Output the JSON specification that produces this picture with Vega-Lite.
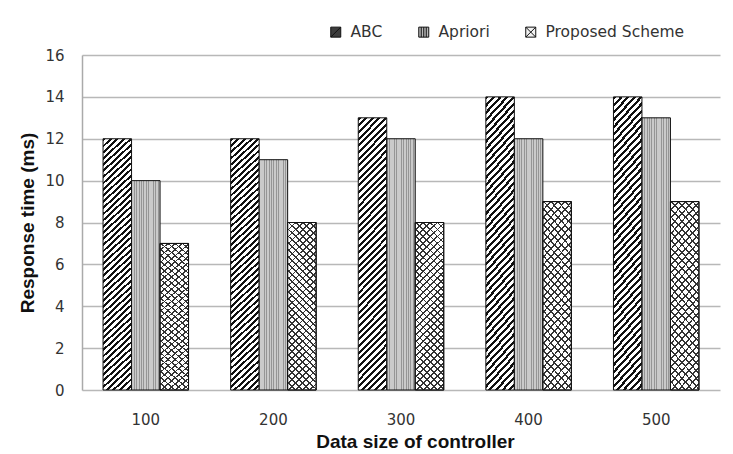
{
  "$schema": "https://vega.github.io/schema/vega-lite/v6.json",
  "width": 638,
  "height": 335,
  "autosize": {"type": "none"},
  "padding": {"left": 82, "top": 55, "right": 13, "bottom": 64},
  "background": "white",
  "config": {"view": {"stroke": null}, "font": "DejaVu Sans"},
  "data": {
    "values": [
      {"size": "100", "series": "ABC", "v": 12},
      {"size": "100", "series": "Apriori", "v": 10},
      {"size": "100", "series": "Proposed Scheme", "v": 7},
      {"size": "200", "series": "ABC", "v": 12},
      {"size": "200", "series": "Apriori", "v": 11},
      {"size": "200", "series": "Proposed Scheme", "v": 8},
      {"size": "300", "series": "ABC", "v": 13},
      {"size": "300", "series": "Apriori", "v": 12},
      {"size": "300", "series": "Proposed Scheme", "v": 8},
      {"size": "400", "series": "ABC", "v": 14},
      {"size": "400", "series": "Apriori", "v": 12},
      {"size": "400", "series": "Proposed Scheme", "v": 9},
      {"size": "500", "series": "ABC", "v": 14},
      {"size": "500", "series": "Apriori", "v": 13},
      {"size": "500", "series": "Proposed Scheme", "v": 9}
    ]
  },
  "encoding": {
    "x": {
      "field": "size", "type": "nominal", "sort": ["100", "200", "300", "400", "500"],
      "scale": {"paddingInner": 0.33, "paddingOuter": 0.165},
      "axis": {
        "title": "Data size of controller", "titleFont": "Liberation Sans", "titleFontSize": 19, "titleFontWeight": "bold", "titleColor": "#111",
        "titleX": 333, "titleY": 57, "titleBaseline": "alphabetic", "titleAlign": "center",
        "labelFont": "DejaVu Sans", "labelFontSize": 15, "labelColor": "#333", "labelAngle": 0, "labelBaseline": "alphabetic", "labelPadding": 34,
        "ticks": false, "tickSize": 0, "domain": false, "grid": false
      }
    },
    "xOffset": {"field": "series", "type": "nominal", "sort": ["ABC", "Apriori", "Proposed Scheme"], "scale": {"paddingInner": 0, "paddingOuter": 0}},
    "y": {
      "field": "v", "type": "quantitative", "scale": {"domain": [0, 16], "nice": false},
      "axis": {
        "title": "Response time (ms)", "titleFont": "Liberation Sans", "titleFontSize": 19, "titleFontWeight": "bold", "titleColor": "#111",
        "titleX": -49, "titleY": 167.5, "titleAngle": -90, "titleBaseline": "alphabetic", "titleAlign": "center",
        "values": [0, 2, 4, 6, 8, 10, 12, 14, 16],
        "labelFont": "DejaVu Sans", "labelFontSize": 15, "labelColor": "#333", "labelPadding": 18,
        "ticks": false, "tickSize": 0, "domain": true, "domainColor": "#aaa", "domainWidth": 1.5,
        "grid": true, "gridColor": "#b8b8b8", "gridWidth": 1.5
      }
    }
  },
  "layer": [
    {
      "mark": {"type": "bar", "stroke": "#111", "strokeWidth": 1},
      "encoding": {
        "fill": {
          "condition": [
            {"test": "datum.series === 'ABC'", "value": {"gradient": "linear", "x1": 0, "y1": 0, "x2": 0.116, "y2": 1.094, "stops": [
              {"offset": 0, "color": "#111"}, {"offset": 0.01, "color": "#111"}, {"offset": 0.01, "color": "#fff"}, {"offset": 0.0222, "color": "#fff"},
              {"offset": 0.0222, "color": "#111"}, {"offset": 0.0322, "color": "#111"}, {"offset": 0.0322, "color": "#fff"}, {"offset": 0.0444, "color": "#fff"},
              {"offset": 0.0444, "color": "#111"}, {"offset": 0.0544, "color": "#111"}, {"offset": 0.0544, "color": "#fff"}, {"offset": 0.0667, "color": "#fff"},
              {"offset": 0.0667, "color": "#111"}, {"offset": 0.0767, "color": "#111"}, {"offset": 0.0767, "color": "#fff"}, {"offset": 0.0889, "color": "#fff"},
              {"offset": 0.0889, "color": "#111"}, {"offset": 0.0989, "color": "#111"}, {"offset": 0.0989, "color": "#fff"}, {"offset": 0.1111, "color": "#fff"},
              {"offset": 0.1111, "color": "#111"}, {"offset": 0.1211, "color": "#111"}, {"offset": 0.1211, "color": "#fff"}, {"offset": 0.1333, "color": "#fff"},
              {"offset": 0.1333, "color": "#111"}, {"offset": 0.1433, "color": "#111"}, {"offset": 0.1433, "color": "#fff"}, {"offset": 0.1556, "color": "#fff"},
              {"offset": 0.1556, "color": "#111"}, {"offset": 0.1656, "color": "#111"}, {"offset": 0.1656, "color": "#fff"}, {"offset": 0.1778, "color": "#fff"},
              {"offset": 0.1778, "color": "#111"}, {"offset": 0.1878, "color": "#111"}, {"offset": 0.1878, "color": "#fff"}, {"offset": 0.2, "color": "#fff"},
              {"offset": 0.2, "color": "#111"}, {"offset": 0.21, "color": "#111"}, {"offset": 0.21, "color": "#fff"}, {"offset": 0.2222, "color": "#fff"},
              {"offset": 0.2222, "color": "#111"}, {"offset": 0.2322, "color": "#111"}, {"offset": 0.2322, "color": "#fff"}, {"offset": 0.2444, "color": "#fff"},
              {"offset": 0.2444, "color": "#111"}, {"offset": 0.2544, "color": "#111"}, {"offset": 0.2544, "color": "#fff"}, {"offset": 0.2667, "color": "#fff"},
              {"offset": 0.2667, "color": "#111"}, {"offset": 0.2767, "color": "#111"}, {"offset": 0.2767, "color": "#fff"}, {"offset": 0.2889, "color": "#fff"},
              {"offset": 0.2889, "color": "#111"}, {"offset": 0.2989, "color": "#111"}, {"offset": 0.2989, "color": "#fff"}, {"offset": 0.3111, "color": "#fff"},
              {"offset": 0.3111, "color": "#111"}, {"offset": 0.3211, "color": "#111"}, {"offset": 0.3211, "color": "#fff"}, {"offset": 0.3333, "color": "#fff"},
              {"offset": 0.3333, "color": "#111"}, {"offset": 0.3433, "color": "#111"}, {"offset": 0.3433, "color": "#fff"}, {"offset": 0.3556, "color": "#fff"},
              {"offset": 0.3556, "color": "#111"}, {"offset": 0.3656, "color": "#111"}, {"offset": 0.3656, "color": "#fff"}, {"offset": 0.3778, "color": "#fff"},
              {"offset": 0.3778, "color": "#111"}, {"offset": 0.3878, "color": "#111"}, {"offset": 0.3878, "color": "#fff"}, {"offset": 0.4, "color": "#fff"},
              {"offset": 0.4, "color": "#111"}, {"offset": 0.41, "color": "#111"}, {"offset": 0.41, "color": "#fff"}, {"offset": 0.4222, "color": "#fff"},
              {"offset": 0.4222, "color": "#111"}, {"offset": 0.4322, "color": "#111"}, {"offset": 0.4322, "color": "#fff"}, {"offset": 0.4444, "color": "#fff"},
              {"offset": 0.4444, "color": "#111"}, {"offset": 0.4544, "color": "#111"}, {"offset": 0.4544, "color": "#fff"}, {"offset": 0.4667, "color": "#fff"},
              {"offset": 0.4667, "color": "#111"}, {"offset": 0.4767, "color": "#111"}, {"offset": 0.4767, "color": "#fff"}, {"offset": 0.4889, "color": "#fff"},
              {"offset": 0.4889, "color": "#111"}, {"offset": 0.4989, "color": "#111"}, {"offset": 0.4989, "color": "#fff"}, {"offset": 0.5111, "color": "#fff"},
              {"offset": 0.5111, "color": "#111"}, {"offset": 0.5211, "color": "#111"}, {"offset": 0.5211, "color": "#fff"}, {"offset": 0.5333, "color": "#fff"},
              {"offset": 0.5333, "color": "#111"}, {"offset": 0.5433, "color": "#111"}, {"offset": 0.5433, "color": "#fff"}, {"offset": 0.5556, "color": "#fff"},
              {"offset": 0.5556, "color": "#111"}, {"offset": 0.5656, "color": "#111"}, {"offset": 0.5656, "color": "#fff"}, {"offset": 0.5778, "color": "#fff"},
              {"offset": 0.5778, "color": "#111"}, {"offset": 0.5878, "color": "#111"}, {"offset": 0.5878, "color": "#fff"}, {"offset": 0.6, "color": "#fff"},
              {"offset": 0.6, "color": "#111"}, {"offset": 0.61, "color": "#111"}, {"offset": 0.61, "color": "#fff"}, {"offset": 0.6222, "color": "#fff"},
              {"offset": 0.6222, "color": "#111"}, {"offset": 0.6322, "color": "#111"}, {"offset": 0.6322, "color": "#fff"}, {"offset": 0.6444, "color": "#fff"},
              {"offset": 0.6444, "color": "#111"}, {"offset": 0.6544, "color": "#111"}, {"offset": 0.6544, "color": "#fff"}, {"offset": 0.6667, "color": "#fff"},
              {"offset": 0.6667, "color": "#111"}, {"offset": 0.6767, "color": "#111"}, {"offset": 0.6767, "color": "#fff"}, {"offset": 0.6889, "color": "#fff"},
              {"offset": 0.6889, "color": "#111"}, {"offset": 0.6989, "color": "#111"}, {"offset": 0.6989, "color": "#fff"}, {"offset": 0.7111, "color": "#fff"},
              {"offset": 0.7111, "color": "#111"}, {"offset": 0.7211, "color": "#111"}, {"offset": 0.7211, "color": "#fff"}, {"offset": 0.7333, "color": "#fff"},
              {"offset": 0.7333, "color": "#111"}, {"offset": 0.7433, "color": "#111"}, {"offset": 0.7433, "color": "#fff"}, {"offset": 0.7556, "color": "#fff"},
              {"offset": 0.7556, "color": "#111"}, {"offset": 0.7656, "color": "#111"}, {"offset": 0.7656, "color": "#fff"}, {"offset": 0.7778, "color": "#fff"},
              {"offset": 0.7778, "color": "#111"}, {"offset": 0.7878, "color": "#111"}, {"offset": 0.7878, "color": "#fff"}, {"offset": 0.8, "color": "#fff"},
              {"offset": 0.8, "color": "#111"}, {"offset": 0.81, "color": "#111"}, {"offset": 0.81, "color": "#fff"}, {"offset": 0.8222, "color": "#fff"},
              {"offset": 0.8222, "color": "#111"}, {"offset": 0.8322, "color": "#111"}, {"offset": 0.8322, "color": "#fff"}, {"offset": 0.8444, "color": "#fff"},
              {"offset": 0.8444, "color": "#111"}, {"offset": 0.8544, "color": "#111"}, {"offset": 0.8544, "color": "#fff"}, {"offset": 0.8667, "color": "#fff"},
              {"offset": 0.8667, "color": "#111"}, {"offset": 0.8767, "color": "#111"}, {"offset": 0.8767, "color": "#fff"}, {"offset": 0.8889, "color": "#fff"},
              {"offset": 0.8889, "color": "#111"}, {"offset": 0.8989, "color": "#111"}, {"offset": 0.8989, "color": "#fff"}, {"offset": 0.9111, "color": "#fff"},
              {"offset": 0.9111, "color": "#111"}, {"offset": 0.9211, "color": "#111"}, {"offset": 0.9211, "color": "#fff"}, {"offset": 0.9333, "color": "#fff"},
              {"offset": 0.9333, "color": "#111"}, {"offset": 0.9433, "color": "#111"}, {"offset": 0.9433, "color": "#fff"}, {"offset": 0.9556, "color": "#fff"},
              {"offset": 0.9556, "color": "#111"}, {"offset": 0.9656, "color": "#111"}, {"offset": 0.9656, "color": "#fff"}, {"offset": 0.9778, "color": "#fff"},
              {"offset": 0.9778, "color": "#111"}, {"offset": 0.9878, "color": "#111"}, {"offset": 0.9878, "color": "#fff"}, {"offset": 1, "color": "#fff"}
            ]}},
            {"test": "datum.series === 'Apriori'", "value": {"gradient": "linear", "x1": 0, "y1": 0, "x2": 1, "y2": 0, "stops": [
              {"offset": 0, "color": "#959595"}, {"offset": 0.03, "color": "#959595"}, {"offset": 0.03, "color": "#cacaca"}, {"offset": 0.0833, "color": "#cacaca"},
              {"offset": 0.0833, "color": "#959595"}, {"offset": 0.1133, "color": "#959595"}, {"offset": 0.1133, "color": "#cacaca"}, {"offset": 0.1667, "color": "#cacaca"},
              {"offset": 0.1667, "color": "#959595"}, {"offset": 0.1967, "color": "#959595"}, {"offset": 0.1967, "color": "#cacaca"}, {"offset": 0.25, "color": "#cacaca"},
              {"offset": 0.25, "color": "#959595"}, {"offset": 0.28, "color": "#959595"}, {"offset": 0.28, "color": "#cacaca"}, {"offset": 0.3333, "color": "#cacaca"},
              {"offset": 0.3333, "color": "#959595"}, {"offset": 0.3633, "color": "#959595"}, {"offset": 0.3633, "color": "#cacaca"}, {"offset": 0.4167, "color": "#cacaca"},
              {"offset": 0.4167, "color": "#959595"}, {"offset": 0.4467, "color": "#959595"}, {"offset": 0.4467, "color": "#cacaca"}, {"offset": 0.5, "color": "#cacaca"},
              {"offset": 0.5, "color": "#959595"}, {"offset": 0.53, "color": "#959595"}, {"offset": 0.53, "color": "#cacaca"}, {"offset": 0.5833, "color": "#cacaca"},
              {"offset": 0.5833, "color": "#959595"}, {"offset": 0.6133, "color": "#959595"}, {"offset": 0.6133, "color": "#cacaca"}, {"offset": 0.6667, "color": "#cacaca"},
              {"offset": 0.6667, "color": "#959595"}, {"offset": 0.6967, "color": "#959595"}, {"offset": 0.6967, "color": "#cacaca"}, {"offset": 0.75, "color": "#cacaca"},
              {"offset": 0.75, "color": "#959595"}, {"offset": 0.78, "color": "#959595"}, {"offset": 0.78, "color": "#cacaca"}, {"offset": 0.8333, "color": "#cacaca"},
              {"offset": 0.8333, "color": "#959595"}, {"offset": 0.8633, "color": "#959595"}, {"offset": 0.8633, "color": "#cacaca"}, {"offset": 0.9167, "color": "#cacaca"},
              {"offset": 0.9167, "color": "#959595"}, {"offset": 0.9467, "color": "#959595"}, {"offset": 0.9467, "color": "#cacaca"}, {"offset": 1, "color": "#cacaca"}
            ]}}
          ],
          "value": "#ffffff"
        }
      }
    },
    {
      "transform": [{"filter": "datum.series === 'Proposed Scheme'"}],
      "mark": {"type": "bar", "strokeWidth": 0, "fill": {"gradient": "linear", "x1": 0, "y1": 0, "x2": 0.19, "y2": 1.135, "stops": [
        {"offset": 0, "color": "#333"}, {"offset": 0.009, "color": "#333"}, {"offset": 0.009, "color": "rgba(0,0,0,0)"}, {"offset": 0.0357, "color": "rgba(0,0,0,0)"},
        {"offset": 0.0357, "color": "#333"}, {"offset": 0.0447, "color": "#333"}, {"offset": 0.0447, "color": "rgba(0,0,0,0)"}, {"offset": 0.0714, "color": "rgba(0,0,0,0)"},
        {"offset": 0.0714, "color": "#333"}, {"offset": 0.0804, "color": "#333"}, {"offset": 0.0804, "color": "rgba(0,0,0,0)"}, {"offset": 0.1071, "color": "rgba(0,0,0,0)"},
        {"offset": 0.1071, "color": "#333"}, {"offset": 0.1161, "color": "#333"}, {"offset": 0.1161, "color": "rgba(0,0,0,0)"}, {"offset": 0.1429, "color": "rgba(0,0,0,0)"},
        {"offset": 0.1429, "color": "#333"}, {"offset": 0.1519, "color": "#333"}, {"offset": 0.1519, "color": "rgba(0,0,0,0)"}, {"offset": 0.1786, "color": "rgba(0,0,0,0)"},
        {"offset": 0.1786, "color": "#333"}, {"offset": 0.1876, "color": "#333"}, {"offset": 0.1876, "color": "rgba(0,0,0,0)"}, {"offset": 0.2143, "color": "rgba(0,0,0,0)"},
        {"offset": 0.2143, "color": "#333"}, {"offset": 0.2233, "color": "#333"}, {"offset": 0.2233, "color": "rgba(0,0,0,0)"}, {"offset": 0.25, "color": "rgba(0,0,0,0)"},
        {"offset": 0.25, "color": "#333"}, {"offset": 0.259, "color": "#333"}, {"offset": 0.259, "color": "rgba(0,0,0,0)"}, {"offset": 0.2857, "color": "rgba(0,0,0,0)"},
        {"offset": 0.2857, "color": "#333"}, {"offset": 0.2947, "color": "#333"}, {"offset": 0.2947, "color": "rgba(0,0,0,0)"}, {"offset": 0.3214, "color": "rgba(0,0,0,0)"},
        {"offset": 0.3214, "color": "#333"}, {"offset": 0.3304, "color": "#333"}, {"offset": 0.3304, "color": "rgba(0,0,0,0)"}, {"offset": 0.3571, "color": "rgba(0,0,0,0)"},
        {"offset": 0.3571, "color": "#333"}, {"offset": 0.3661, "color": "#333"}, {"offset": 0.3661, "color": "rgba(0,0,0,0)"}, {"offset": 0.3929, "color": "rgba(0,0,0,0)"},
        {"offset": 0.3929, "color": "#333"}, {"offset": 0.4019, "color": "#333"}, {"offset": 0.4019, "color": "rgba(0,0,0,0)"}, {"offset": 0.4286, "color": "rgba(0,0,0,0)"},
        {"offset": 0.4286, "color": "#333"}, {"offset": 0.4376, "color": "#333"}, {"offset": 0.4376, "color": "rgba(0,0,0,0)"}, {"offset": 0.4643, "color": "rgba(0,0,0,0)"},
        {"offset": 0.4643, "color": "#333"}, {"offset": 0.4733, "color": "#333"}, {"offset": 0.4733, "color": "rgba(0,0,0,0)"}, {"offset": 0.5, "color": "rgba(0,0,0,0)"},
        {"offset": 0.5, "color": "#333"}, {"offset": 0.509, "color": "#333"}, {"offset": 0.509, "color": "rgba(0,0,0,0)"}, {"offset": 0.5357, "color": "rgba(0,0,0,0)"},
        {"offset": 0.5357, "color": "#333"}, {"offset": 0.5447, "color": "#333"}, {"offset": 0.5447, "color": "rgba(0,0,0,0)"}, {"offset": 0.5714, "color": "rgba(0,0,0,0)"},
        {"offset": 0.5714, "color": "#333"}, {"offset": 0.5804, "color": "#333"}, {"offset": 0.5804, "color": "rgba(0,0,0,0)"}, {"offset": 0.6071, "color": "rgba(0,0,0,0)"},
        {"offset": 0.6071, "color": "#333"}, {"offset": 0.6161, "color": "#333"}, {"offset": 0.6161, "color": "rgba(0,0,0,0)"}, {"offset": 0.6429, "color": "rgba(0,0,0,0)"},
        {"offset": 0.6429, "color": "#333"}, {"offset": 0.6519, "color": "#333"}, {"offset": 0.6519, "color": "rgba(0,0,0,0)"}, {"offset": 0.6786, "color": "rgba(0,0,0,0)"},
        {"offset": 0.6786, "color": "#333"}, {"offset": 0.6876, "color": "#333"}, {"offset": 0.6876, "color": "rgba(0,0,0,0)"}, {"offset": 0.7143, "color": "rgba(0,0,0,0)"},
        {"offset": 0.7143, "color": "#333"}, {"offset": 0.7233, "color": "#333"}, {"offset": 0.7233, "color": "rgba(0,0,0,0)"}, {"offset": 0.75, "color": "rgba(0,0,0,0)"},
        {"offset": 0.75, "color": "#333"}, {"offset": 0.759, "color": "#333"}, {"offset": 0.759, "color": "rgba(0,0,0,0)"}, {"offset": 0.7857, "color": "rgba(0,0,0,0)"},
        {"offset": 0.7857, "color": "#333"}, {"offset": 0.7947, "color": "#333"}, {"offset": 0.7947, "color": "rgba(0,0,0,0)"}, {"offset": 0.8214, "color": "rgba(0,0,0,0)"},
        {"offset": 0.8214, "color": "#333"}, {"offset": 0.8304, "color": "#333"}, {"offset": 0.8304, "color": "rgba(0,0,0,0)"}, {"offset": 0.8571, "color": "rgba(0,0,0,0)"},
        {"offset": 0.8571, "color": "#333"}, {"offset": 0.8661, "color": "#333"}, {"offset": 0.8661, "color": "rgba(0,0,0,0)"}, {"offset": 0.8929, "color": "rgba(0,0,0,0)"},
        {"offset": 0.8929, "color": "#333"}, {"offset": 0.9019, "color": "#333"}, {"offset": 0.9019, "color": "rgba(0,0,0,0)"}, {"offset": 0.9286, "color": "rgba(0,0,0,0)"},
        {"offset": 0.9286, "color": "#333"}, {"offset": 0.9376, "color": "#333"}, {"offset": 0.9376, "color": "rgba(0,0,0,0)"}, {"offset": 0.9643, "color": "rgba(0,0,0,0)"},
        {"offset": 0.9643, "color": "#333"}, {"offset": 0.9733, "color": "#333"}, {"offset": 0.9733, "color": "rgba(0,0,0,0)"}, {"offset": 1, "color": "rgba(0,0,0,0)"}
      ]}}
    },
    {
      "transform": [{"filter": "datum.series === 'Proposed Scheme'"}],
      "mark": {"type": "bar", "stroke": "#111", "strokeWidth": 1, "fill": {"gradient": "linear", "x1": 0, "y1": 1, "x2": 0.19, "y2": -0.135, "stops": [
        {"offset": 0, "color": "#333"}, {"offset": 0.009, "color": "#333"}, {"offset": 0.009, "color": "rgba(0,0,0,0)"}, {"offset": 0.0357, "color": "rgba(0,0,0,0)"},
        {"offset": 0.0357, "color": "#333"}, {"offset": 0.0447, "color": "#333"}, {"offset": 0.0447, "color": "rgba(0,0,0,0)"}, {"offset": 0.0714, "color": "rgba(0,0,0,0)"},
        {"offset": 0.0714, "color": "#333"}, {"offset": 0.0804, "color": "#333"}, {"offset": 0.0804, "color": "rgba(0,0,0,0)"}, {"offset": 0.1071, "color": "rgba(0,0,0,0)"},
        {"offset": 0.1071, "color": "#333"}, {"offset": 0.1161, "color": "#333"}, {"offset": 0.1161, "color": "rgba(0,0,0,0)"}, {"offset": 0.1429, "color": "rgba(0,0,0,0)"},
        {"offset": 0.1429, "color": "#333"}, {"offset": 0.1519, "color": "#333"}, {"offset": 0.1519, "color": "rgba(0,0,0,0)"}, {"offset": 0.1786, "color": "rgba(0,0,0,0)"},
        {"offset": 0.1786, "color": "#333"}, {"offset": 0.1876, "color": "#333"}, {"offset": 0.1876, "color": "rgba(0,0,0,0)"}, {"offset": 0.2143, "color": "rgba(0,0,0,0)"},
        {"offset": 0.2143, "color": "#333"}, {"offset": 0.2233, "color": "#333"}, {"offset": 0.2233, "color": "rgba(0,0,0,0)"}, {"offset": 0.25, "color": "rgba(0,0,0,0)"},
        {"offset": 0.25, "color": "#333"}, {"offset": 0.259, "color": "#333"}, {"offset": 0.259, "color": "rgba(0,0,0,0)"}, {"offset": 0.2857, "color": "rgba(0,0,0,0)"},
        {"offset": 0.2857, "color": "#333"}, {"offset": 0.2947, "color": "#333"}, {"offset": 0.2947, "color": "rgba(0,0,0,0)"}, {"offset": 0.3214, "color": "rgba(0,0,0,0)"},
        {"offset": 0.3214, "color": "#333"}, {"offset": 0.3304, "color": "#333"}, {"offset": 0.3304, "color": "rgba(0,0,0,0)"}, {"offset": 0.3571, "color": "rgba(0,0,0,0)"},
        {"offset": 0.3571, "color": "#333"}, {"offset": 0.3661, "color": "#333"}, {"offset": 0.3661, "color": "rgba(0,0,0,0)"}, {"offset": 0.3929, "color": "rgba(0,0,0,0)"},
        {"offset": 0.3929, "color": "#333"}, {"offset": 0.4019, "color": "#333"}, {"offset": 0.4019, "color": "rgba(0,0,0,0)"}, {"offset": 0.4286, "color": "rgba(0,0,0,0)"},
        {"offset": 0.4286, "color": "#333"}, {"offset": 0.4376, "color": "#333"}, {"offset": 0.4376, "color": "rgba(0,0,0,0)"}, {"offset": 0.4643, "color": "rgba(0,0,0,0)"},
        {"offset": 0.4643, "color": "#333"}, {"offset": 0.4733, "color": "#333"}, {"offset": 0.4733, "color": "rgba(0,0,0,0)"}, {"offset": 0.5, "color": "rgba(0,0,0,0)"},
        {"offset": 0.5, "color": "#333"}, {"offset": 0.509, "color": "#333"}, {"offset": 0.509, "color": "rgba(0,0,0,0)"}, {"offset": 0.5357, "color": "rgba(0,0,0,0)"},
        {"offset": 0.5357, "color": "#333"}, {"offset": 0.5447, "color": "#333"}, {"offset": 0.5447, "color": "rgba(0,0,0,0)"}, {"offset": 0.5714, "color": "rgba(0,0,0,0)"},
        {"offset": 0.5714, "color": "#333"}, {"offset": 0.5804, "color": "#333"}, {"offset": 0.5804, "color": "rgba(0,0,0,0)"}, {"offset": 0.6071, "color": "rgba(0,0,0,0)"},
        {"offset": 0.6071, "color": "#333"}, {"offset": 0.6161, "color": "#333"}, {"offset": 0.6161, "color": "rgba(0,0,0,0)"}, {"offset": 0.6429, "color": "rgba(0,0,0,0)"},
        {"offset": 0.6429, "color": "#333"}, {"offset": 0.6519, "color": "#333"}, {"offset": 0.6519, "color": "rgba(0,0,0,0)"}, {"offset": 0.6786, "color": "rgba(0,0,0,0)"},
        {"offset": 0.6786, "color": "#333"}, {"offset": 0.6876, "color": "#333"}, {"offset": 0.6876, "color": "rgba(0,0,0,0)"}, {"offset": 0.7143, "color": "rgba(0,0,0,0)"},
        {"offset": 0.7143, "color": "#333"}, {"offset": 0.7233, "color": "#333"}, {"offset": 0.7233, "color": "rgba(0,0,0,0)"}, {"offset": 0.75, "color": "rgba(0,0,0,0)"},
        {"offset": 0.75, "color": "#333"}, {"offset": 0.759, "color": "#333"}, {"offset": 0.759, "color": "rgba(0,0,0,0)"}, {"offset": 0.7857, "color": "rgba(0,0,0,0)"},
        {"offset": 0.7857, "color": "#333"}, {"offset": 0.7947, "color": "#333"}, {"offset": 0.7947, "color": "rgba(0,0,0,0)"}, {"offset": 0.8214, "color": "rgba(0,0,0,0)"},
        {"offset": 0.8214, "color": "#333"}, {"offset": 0.8304, "color": "#333"}, {"offset": 0.8304, "color": "rgba(0,0,0,0)"}, {"offset": 0.8571, "color": "rgba(0,0,0,0)"},
        {"offset": 0.8571, "color": "#333"}, {"offset": 0.8661, "color": "#333"}, {"offset": 0.8661, "color": "rgba(0,0,0,0)"}, {"offset": 0.8929, "color": "rgba(0,0,0,0)"},
        {"offset": 0.8929, "color": "#333"}, {"offset": 0.9019, "color": "#333"}, {"offset": 0.9019, "color": "rgba(0,0,0,0)"}, {"offset": 0.9286, "color": "rgba(0,0,0,0)"},
        {"offset": 0.9286, "color": "#333"}, {"offset": 0.9376, "color": "#333"}, {"offset": 0.9376, "color": "rgba(0,0,0,0)"}, {"offset": 0.9643, "color": "rgba(0,0,0,0)"},
        {"offset": 0.9643, "color": "#333"}, {"offset": 0.9733, "color": "#333"}, {"offset": 0.9733, "color": "rgba(0,0,0,0)"}, {"offset": 1, "color": "rgba(0,0,0,0)"}
      ]}}
    },
    {
      "transform": [{"filter": "false"}],
      "mark": {"type": "point", "filled": true, "opacity": 1, "stroke": "#111", "strokeWidth": 1},
      "encoding": {
        "fill": {
          "field": "series", "type": "nominal",
          "scale": {"domain": ["ABC", "Apriori", "Proposed Scheme"], "range": ["#3c3c3c", "#b8b8b8", "#f2f2f2"]},
          "legend": {"orient": "none", "legendX": 246, "legendY": -31, "direction": "horizontal", "title": null, "symbolSize": 100, "symbolOpacity": 1, "symbolStrokeColor": "#111", "symbolStrokeWidth": 1, "labelFont": "DejaVu Sans", "labelFontSize": 15.5, "labelColor": "#333", "columnPadding": 33, "labelOffset": 7, "padding": 0,
            "encode": {"symbols": {"update": {"stroke": {"value": "#111"}, "strokeWidth": {"value": 1}, "opacity": {"value": 1}}}}}
        },
        "shape": {
          "field": "series", "type": "nominal",
          "scale": {"domain": ["ABC", "Apriori", "Proposed Scheme"], "range": ["M-1,-1H1V1H-1Z M-1,1L1,-1", "M-1,-1H1V1H-1Z M-0.5,-1V1 M0,-1V1 M0.5,-1V1", "M-1,-1H1V1H-1Z M-1,-1L1,1 M1,-1L-1,1"]},
          "legend": {"orient": "none", "legendX": 246, "legendY": -31, "direction": "horizontal", "title": null, "symbolSize": 100, "symbolOpacity": 1, "symbolStrokeColor": "#111", "symbolStrokeWidth": 1, "labelFont": "DejaVu Sans", "labelFontSize": 15.5, "labelColor": "#333", "columnPadding": 33, "labelOffset": 7, "padding": 0,
            "encode": {"symbols": {"update": {"stroke": {"value": "#111"}, "strokeWidth": {"value": 1}, "opacity": {"value": 1}}}}}
        }
      }
    }
  ]
}
